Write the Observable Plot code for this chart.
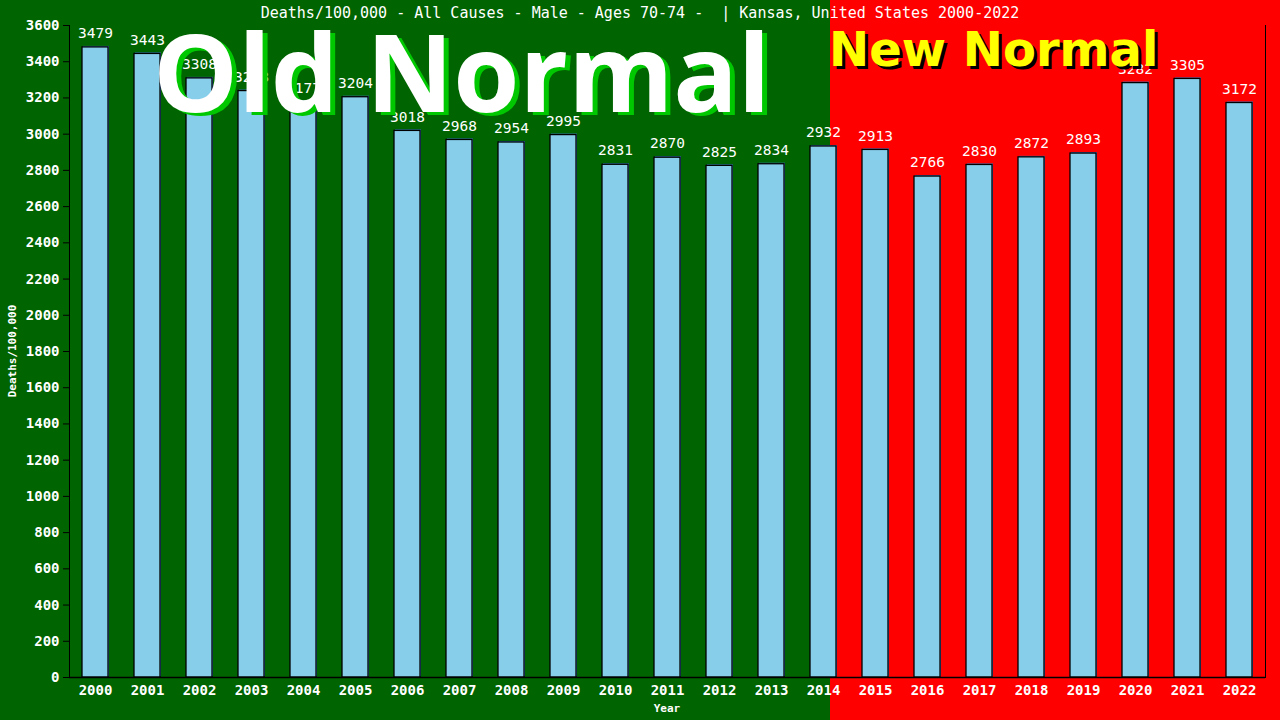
<!DOCTYPE html>
<html>
<head>
<meta charset="utf-8">
<script src="https://cdn.jsdelivr.net/npm/d3@7"></script>
<script src="https://cdn.jsdelivr.net/npm/@observablehq/plot@0.6"></script>
<style>
  html, body { margin: 0; padding: 0; }
  body {
    width: 1280px; height: 720px; overflow: hidden; position: relative;
    background: linear-gradient(to right, #006400 0px, #006400 830px, #ff0000 830px, #ff0000 1280px);
    font-family: "DejaVu Sans Mono", monospace;
  }
  #chart { position: absolute; left: 0; top: 0; }
  .title { position: absolute; left: 0; width: 1280px; top: 4px; text-align: center; color: white; font-size: 15px; white-space: pre; }
  .ylab { position: absolute; left: 12px; top: 351px; color: white; font-size: 11px; font-weight: bold; transform: translate(-50%, -50%) rotate(-90deg); white-space: nowrap; }
  .xlab { position: absolute; left: 667px; top: 702px; color: white; font-size: 11px; font-weight: bold; transform: translateX(-50%); }
  .old { position: absolute; left: 153px; top: 17px; font-family: "Open Sans", sans-serif; font-weight: bold; font-size: 107px; color: white; text-shadow: 5px 3px 0 #00c800; white-space: nowrap; line-height: 1; }
  .new { position: absolute; left: 829px; top: 22px; font-family: "DejaVu Sans", sans-serif; font-weight: bold; font-size: 48px; color: #ffff00; text-shadow: 3px 3px 0 #000; white-space: nowrap; line-height: 1.15; }
</style>
</head>
<body>
<div id="chart"></div>
<div class="title">Deaths/100,000 - All Causes - Male - Ages 70-74 -  | Kansas, United States 2000-2022</div>
<div class="ylab">Deaths/100,000</div>
<div class="xlab">Year</div>
<div class="old">Old Normal</div>
<div class="new">New Normal</div>
<script>
const years = ["2000","2001","2002","2003","2004","2005","2006","2007","2008","2009","2010","2011","2012","2013","2014","2015","2016","2017","2018","2019","2020","2021","2022"];
const deaths = [3479, 3443, 3308, 3238, 3177, 3204, 3018, 2968, 2954, 2995, 2831, 2870, 2825, 2834, 2932, 2913, 2766, 2830, 2872, 2893, 3282, 3305, 3172];
const yTicks = [0,200,400,600,800,1000,1200,1400,1600,1800,2000,2200,2400,2600,2800,3000,3200,3400,3600];

const data = years.map((y, i) => ({year: y, value: deaths[i]}));

const chart = Plot.plot({
  width: 1280,
  height: 720,
  marginLeft: 69,
  marginRight: 15,
  marginTop: 25,
  marginBottom: 43,
  style: {background: "transparent", color: "white", fontFamily: "DejaVu Sans Mono", fontSize: "14px", overflow: "visible"},
  x: {type: "band", domain: years, paddingInner: 0.5, paddingOuter: 0.25, label: null},
  y: {domain: [0, 3600], label: null},
  marks: [
    Plot.barY(data, {x: "year", y: "value", fill: "#3a78c8", dx: 1, dy: -1}),
    Plot.barY(data, {x: "year", y: "value", fill: "#87ceeb", stroke: "black", strokeWidth: 1.3}),
    Plot.text(data, {x: "year", y: "value", text: d => String(d.value), dy: -14, fill: "white", fontSize: 14.5}),
    Plot.axisY({ticks: yTicks, tickSize: 6, tickPadding: 4, stroke: "black", fill: "white", label: null, fontWeight: "bold", fontSize: 14, tickFormat: d => String(d)}),
    Plot.axisX({tickSize: 0, tickPadding: 8, fill: "white", label: null, fontWeight: "bold", fontSize: 14}),
    Plot.frame({anchor: "left", stroke: "black"}),
    Plot.frame({anchor: "right", stroke: "black"}),
    Plot.ruleY([0], {stroke: "black", strokeWidth: 1.5})
  ]
});
document.getElementById("chart").appendChild(chart);
</script>
</body>
</html>
